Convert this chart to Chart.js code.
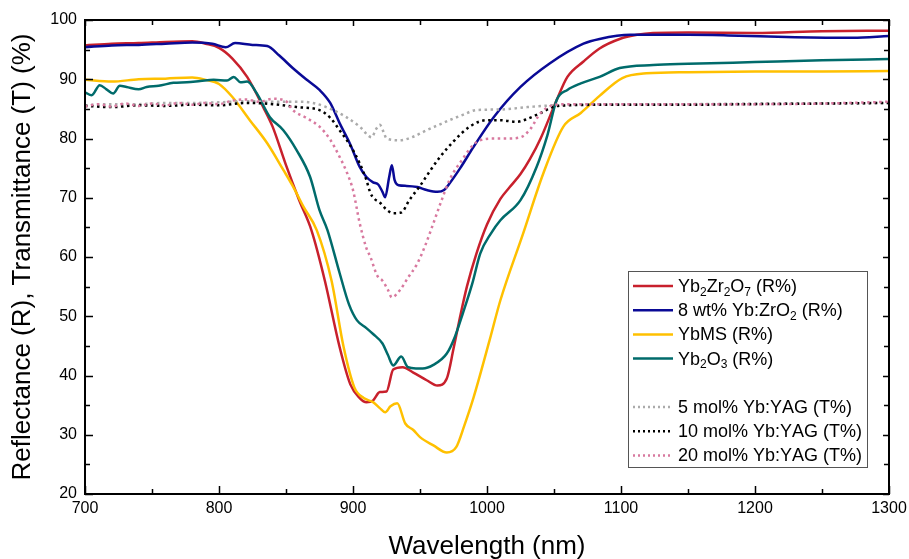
<!DOCTYPE html>
<html>
<head>
<meta charset="utf-8">
<script src="https://cdn.jsdelivr.net/npm/chart.js@4.4.1/dist/chart.umd.min.js"></script>
<style>
  html, body { margin: 0; padding: 0; background: #fff; }
  canvas { display: block; }
</style>
</head>
<body>
<canvas id="chart" width="909" height="559"></canvas>
<script>
// Yb2Zr2O7 (R%)
const redWl = [700, 720, 740, 760, 780, 790, 800, 810, 821, 833, 840, 850, 860, 869, 879, 890, 898, 905, 910, 915, 920, 925, 930, 937, 945, 955, 963, 970, 975, 980, 985, 992, 1000, 1010, 1017, 1025, 1032, 1040, 1052, 1060, 1072, 1084, 1099, 1112, 1124, 1150, 1200, 1250, 1300];
const redR = [95.7, 96.0, 96.1, 96.3, 96.4, 96.0, 95.3, 93.5, 90.4, 85.3, 82.0, 75.5, 69.5, 64.5, 56.0, 44.8, 38.5, 36.2, 35.5, 35.8, 37.2, 37.3, 41.0, 41.4, 40.5, 39.2, 38.3, 39.5, 44.5, 50.0, 55.0, 60.5, 65.5, 69.8, 71.8, 74.0, 76.5, 80.0, 86.5, 90.4, 93.0, 95.2, 96.8, 97.5, 97.8, 97.9, 97.8, 98.1, 98.2];

// 8 wt% Yb:ZrO2 (R%)
const blueWl = [700, 720, 740, 760, 780, 795, 805, 812, 825, 836, 845, 855, 865, 875, 883, 890, 898, 905, 910, 915, 919, 922, 924, 927, 929, 931, 934, 940, 948, 955, 963, 968, 972, 980, 990, 1005, 1025, 1047, 1072, 1084, 1107, 1150, 1180, 1230, 1273, 1300];
const blueR = [95.4, 95.7, 95.8, 96.0, 96.2, 96.0, 95.4, 96.1, 95.8, 95.6, 94.0, 91.9, 90.0, 88.2, 86.0, 82.6, 79.0, 75.2, 73.5, 72.6, 72.2, 71.0, 70.1, 73.5, 75.5, 73.0, 72.1, 72.0, 71.8, 71.3, 71.0, 71.3, 72.4, 75.0, 78.6, 83.6, 88.7, 92.7, 96.0, 96.8, 97.5, 97.5, 97.4, 97.1, 97.0, 97.3];

// YbMS (R%)
const yellowWl = [700, 720, 740, 760, 780, 790, 800, 810, 823, 836, 848, 855, 863, 873, 884, 893, 901, 908, 915, 920, 924, 928, 933, 939, 945, 950, 960, 970, 977, 983, 990, 1002, 1010, 1027, 1042, 1057, 1070, 1084, 1101, 1119, 1150, 1200, 1250, 1300];
const yellowR = [89.9, 89.6, 90.0, 90.1, 90.3, 89.9, 89.2, 87.0, 83.1, 79.2, 74.7, 72.0, 68.5, 64.5, 56.0, 44.8, 38.0, 36.2, 35.5, 34.5, 33.8, 34.8, 35.3, 31.9, 30.8, 29.6, 28.2, 27.0, 27.9, 31.5, 36.3, 46.0, 52.7, 64.0, 74.1, 82.0, 84.3, 87.2, 90.2, 91.0, 91.2, 91.3, 91.3, 91.4];

// Yb2O3 (R%)
const tealWl = [700, 705, 711, 716, 721, 726, 731, 740, 746, 755, 766, 776, 786, 796, 806, 811, 816, 821, 828, 838, 848, 858, 868, 875, 881, 890, 897, 903, 910, 915, 922, 926, 930, 936, 941, 947, 952, 960, 970, 976, 982, 989, 995, 1003, 1010, 1025, 1037, 1045, 1052, 1060, 1070, 1084, 1099, 1124, 1150, 1200, 1250, 1300];
const tealR = [87.8, 87.3, 89.0, 88.3, 87.6, 88.9, 88.7, 88.3, 88.7, 88.9, 89.4, 89.5, 89.7, 89.9, 89.8, 90.4, 89.5, 89.6, 87.7, 83.6, 81.4, 78.0, 73.5, 67.9, 64.5, 57.3, 52.0, 49.3, 48.0, 47.0, 45.4, 43.5, 41.7, 43.2, 41.4, 41.2, 41.2, 41.8, 43.7, 46.5, 50.5, 55.5, 60.6, 64.0, 66.2, 69.6, 75.2, 80.5, 86.5, 88.2, 89.3, 90.4, 91.9, 92.4, 92.6, 92.9, 93.2, 93.4];

// 5 mol% Yb:YAG (T%)
const grayWl = [700, 720, 740, 760, 780, 800, 820, 840, 860, 870, 880, 895, 905, 914, 917, 920, 923, 925, 935, 945, 955, 965, 972, 982, 992, 1010, 1030, 1050, 1100, 1150, 1200, 1250, 1300];
const grayT = [85.6, 85.8, 85.8, 86.0, 86.0, 86.1, 86.3, 86.2, 86.2, 86.0, 85.3, 83.6, 82.0, 80.2, 81.5, 82.3, 81.0, 80.0, 79.7, 80.3, 81.4, 82.4, 83.1, 84.0, 84.8, 84.9, 85.3, 85.6, 85.8, 85.8, 85.9, 85.9, 86.0];

// 10 mol% Yb:YAG (T%)
const blackWl = [700, 720, 740, 760, 780, 800, 820, 840, 858, 875, 883, 890, 898, 905, 910, 913, 916, 920, 925, 930, 936, 942, 950, 958, 965, 975, 987, 1000, 1010, 1022, 1030, 1040, 1049, 1060, 1100, 1150, 1200, 1250, 1300];
const blackT = [85.5, 85.3, 85.6, 85.5, 85.7, 85.6, 86.0, 85.8, 85.3, 84.8, 83.5, 81.4, 78.8, 75.8, 73.0, 70.8, 69.8, 69.2, 68.0, 67.4, 67.5, 69.6, 72.0, 74.7, 76.9, 79.5, 82.0, 83.1, 83.1, 82.8, 83.3, 84.3, 85.3, 85.6, 85.7, 85.7, 85.8, 85.9, 86.0];

// 20 mol% Yb:YAG (T%)
const pinkWl = [700, 710, 720, 730, 740, 750, 760, 770, 780, 790, 800, 810, 820, 830, 840, 850, 855, 865, 875, 883, 890, 895, 900, 905, 910, 913, 918, 922, 926, 929, 935, 941, 948, 954, 960, 966, 972, 982, 990, 995, 1005, 1015, 1025, 1032, 1040, 1049, 1060, 1100, 1150, 1200, 1250, 1300];
const pinkT = [85.4, 85.8, 85.4, 85.9, 85.5, 85.9, 85.6, 86.0, 85.7, 86.0, 85.8, 86.4, 86.6, 86.2, 86.7, 86.3, 84.8, 83.5, 82.0, 79.8, 76.9, 74.5, 71.3, 65.7, 61.5, 60.0, 56.9, 56.0, 54.5, 53.2, 54.4, 56.5, 58.9, 62.0, 65.7, 69.5, 73.0, 76.6, 79.0, 79.7, 80.0, 80.0, 80.2, 81.5, 84.3, 85.6, 85.8, 85.8, 85.8, 85.8, 85.9, 86.2];

const xTicks = [700, 800, 900, 1000, 1100, 1200, 1300];
const yTicks = [20, 30, 40, 50, 60, 70, 80, 90, 100];

function pts(xs, ys) {
    return xs.map((x, i) => ({ x: x, y: ys[i] }));
}

const FONT = 'Liberation Sans, Arial, sans-serif';

function solid(label, xs, ys, color, order) {
    return { label: label, data: pts(xs, ys), borderColor: color, borderWidth: 2.5,
             pointRadius: 0, cubicInterpolationMode: 'monotone', order: order, dotted: false };
}
function dotted(label, xs, ys, color, order) {
    return { label: label, data: pts(xs, ys), borderColor: color, borderWidth: 2.5,
             borderDash: [2.5, 3.5], pointRadius: 0, cubicInterpolationMode: 'monotone',
             order: order, dotted: true };
}

const datasets = [
    solid('Yb₂Zr₂O₇ (R%)', redWl, redR, '#c8202c', 7),
    solid('8 wt% Yb:ZrO₂ (R%)', blueWl, blueR, '#0a0a96', 6),
    solid('YbMS (R%)', yellowWl, yellowR, '#ffc000', 5),
    solid('Yb₂O₃ (R%)', tealWl, tealR, '#006b6b', 4),
    dotted('5 mol% Yb:YAG (T%)', grayWl, grayT, '#ababab', 3),
    dotted('10 mol% Yb:YAG (T%)', blackWl, blackT, '#000000', 2),
    dotted('20 mol% Yb:YAG (T%)', pinkWl, pinkT, '#d8799f', 1)
];

// draws text where unicode subscript digits are drawn small and lowered
const SUBS = '₀₁₂₃₄₅₆₇₈₉';
function drawRich(ctx, text, x, y, size) {
    let cx = x;
    for (const ch of text) {
        const k = SUBS.indexOf(ch);
        if (k >= 0) {
            ctx.font = Math.round(size * 0.65) + 'px ' + FONT;
            ctx.fillText(String(k), cx, y + size * 0.3);
            cx += ctx.measureText(String(k)).width;
        } else {
            ctx.font = size + 'px ' + FONT;
            ctx.fillText(ch, cx, y);
            cx += ctx.measureText(ch).width;
        }
    }
}

// box frame with inward major/minor ticks on all four sides
const frameTicks = {
    id: 'frameTicks',
    afterDatasetsDraw(chart) {
        const { ctx, chartArea: a, scales } = chart;
        ctx.save();
        ctx.strokeStyle = '#000';
        ctx.lineWidth = 2;
        ctx.strokeRect(a.left, a.top, a.right - a.left, a.bottom - a.top);
        ctx.lineWidth = 1.5;
        ctx.beginPath();
        for (let v = 700; v <= 1300; v += 50) {
            const px = Math.round(scales.x.getPixelForValue(v)) + 0.5;
            const major = v % 100 === 0;
            ctx.moveTo(px, a.bottom); ctx.lineTo(px, a.bottom - (major ? 8 : 5));
            ctx.moveTo(px, a.top); ctx.lineTo(px, a.top + (major ? 6 : 5));
        }
        for (let v = 20; v <= 100; v += 5) {
            const py = Math.round(scales.y.getPixelForValue(v)) + 0.5;
            const major = v % 10 === 0;
            ctx.moveTo(a.left, py); ctx.lineTo(a.left + (major ? 8 : 5), py);
            ctx.moveTo(a.right, py); ctx.lineTo(a.right - (major ? 6 : 5), py);
        }
        ctx.stroke();
        ctx.restore();
    }
};

// legend box inside the plot, with a blank row between R and T groups
const boxLegend = {
    id: 'boxLegend',
    afterDraw(chart) {
        const ctx = chart.ctx;
        const x0 = 628, y0 = 271, w = 239, h = 196;
        ctx.save();
        ctx.fillStyle = '#fff';
        ctx.fillRect(x0, y0, w, h);
        ctx.strokeStyle = '#555';
        ctx.lineWidth = 1;
        ctx.strokeRect(x0 + 0.5, y0 + 0.5, w, h);
        chart.data.datasets.forEach((ds, i) => {
            const row = i < 4 ? i : i + 1;
            const y = 286 + row * 24.2;
            ctx.strokeStyle = ds.borderColor;
            ctx.lineWidth = 2.5;
            ctx.setLineDash(ds.dotted ? [2, 3] : []);
            ctx.beginPath();
            ctx.moveTo(633, y);
            ctx.lineTo(673, y);
            ctx.stroke();
            ctx.setLineDash([]);
            ctx.fillStyle = '#000';
            ctx.textBaseline = 'middle';
            ctx.textAlign = 'left';
            drawRich(ctx, ds.label, 678, y + 1, 18);
        });
        ctx.restore();
    }
};

new Chart(document.getElementById('chart'), {
    type: 'line',
    data: { datasets: datasets },
    options: {
        responsive: false,
        animation: false,
        devicePixelRatio: 1,
        layout: { padding: { top: 20, right: 20, left: 0, bottom: 0 } },
        plugins: { legend: { display: false }, tooltip: { enabled: false } },
        scales: {
            x: {
                type: 'linear', min: 700, max: 1300,
                afterFit: s => { s.height = 65; s.paddingRight = 0; s.paddingLeft = 0; },
                afterBuildTicks: s => { s.ticks = xTicks.map(v => ({ value: v })); },
                ticks: { color: '#000', font: { family: FONT, size: 16 }, padding: 5, maxRotation: 0,
                         callback: v => String(v) },
                grid: { display: false, tickLength: 0 },
                border: { display: false },
                title: { display: true, text: 'Wavelength (nm)', color: '#000',
                         font: { family: FONT, size: 26 }, padding: { top: 0, bottom: -3 } }
            },
            y: {
                min: 20, max: 100,
                afterFit: s => { s.width = 85; },
                afterBuildTicks: s => { s.ticks = yTicks.map(v => ({ value: v })); },
                ticks: { color: '#000', font: { family: FONT, size: 16 }, padding: 8,
                         callback: v => String(v) },
                grid: { display: false, tickLength: 0 },
                border: { display: false },
                title: { display: true, text: 'Reflectance (R), Transmittance (T) (%)', color: '#000',
                         font: { family: FONT, size: 26 }, padding: { top: 7, bottom: 0 } }
            }
        }
    },
    plugins: [frameTicks, boxLegend]
});
</script>
</body>
</html>
